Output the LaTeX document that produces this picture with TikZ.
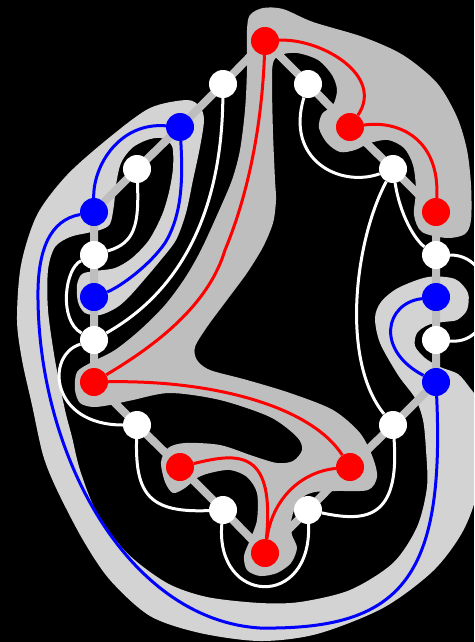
\documentclass[tikz,border=0pt]{standalone}
\definecolor{lgray}{HTML}{D3D3D3}
\definecolor{dgray}{HTML}{BEBEBE}
\pgfdeclarelayer{regions}
\pgfdeclarelayer{links}
\pgfsetlayers{regions,links,main}
\begin{document}
\begin{tikzpicture}[x=1pt,y=-1pt,
  vtx/.style={circle,minimum size=28pt,inner sep=0pt,draw=none},
  rv/.style={vtx,fill=red},
  bv/.style={vtx,fill=blue},
  wv/.style={vtx,fill=white},
  poly/.style={line width=8pt,draw=dgray},
  rc/.style={line width=3pt,draw=red},
  bc/.style={line width=3pt,draw=blue},
  wc/.style={line width=3pt,draw=white}]
\useasboundingbox (0,0) rectangle (474,642);
% vertices
\node[rv] (n1) at (265,41) {};
\node[wv] (n2) at (223,84) {};
\node[bv] (n3) at (180,127) {};
\node[wv] (n4) at (137,169) {};
\node[bv] (n5) at (94,212) {};
\node[wv] (n6) at (94,255) {};
\node[bv] (n7) at (94,297) {};
\node[wv] (n8) at (94,340) {};
\node[rv] (n9) at (94,382) {};
\node[wv] (n10) at (137,425) {};
\node[rv] (n11) at (180,467) {};
\node[wv] (n12) at (223,510) {};
\node[rv] (n13) at (265,553) {};
\node[wv] (n14) at (308,510) {};
\node[rv] (n15) at (350,467) {};
\node[wv] (n16) at (393,425) {};
\node[bv] (n17) at (436,382) {};
\node[wv] (n18) at (436,340) {};
\node[bv] (n19) at (436,297) {};
\node[wv] (n20) at (436,255) {};
\node[rv] (n21) at (436,212) {};
\node[wv] (n22) at (393,169) {};
\node[rv] (n23) at (350,127) {};
\node[wv] (n24) at (308,84) {};

\begin{pgfonlayer}{regions}
\clip (0,0) rectangle (474,642);
\fill[black] (0,0) rectangle (474,642);
% light region
\fill[lgray] plot[smooth cycle] coordinates {
(200,107) (187,100) (150,108) (110,137) (67,175) (37,215) (21,265) (17,320)
(22,360) (32,405) (43,455) (57,490) (83,540) (110,580) (150,616) (200,633)
(260,641) (317,634) (383,608) (433,571) (463,531) (478,487) (480,420) (478,400)
(470,388) (458,374) (440,367) (425,358) (415,346) (417,333) (428,325) (443,322)
(457,320) (467,310) (468,293) (455,279) (428,277) (398,288) (381,302) (375,318)
(380,343) (398,375) (415,398) (423,420) (426,450) (427,487) (417,527) (393,563)
(350,590) (300,602) (260,603) (207,597) (167,583) (127,553) (97,513) (80,470)
(72,437) (65,410) (55,360) (48,310) (48,270) (55,247) (70,237) (87,233)
(100,230) (110,224) (114,205) (116,185) (121,163) (132,148) (147,140) (161,138)
(172,146) (173,168) (169,192) (162,215) (149,240) (132,258) (115,268) (95,271)
(82,274) (77,285) (78,302) (85,313) (100,315) (116,308) (128,298) (144,280)
(160,261) (176,240) (186,213) (193,180) (200,147) (204,120)};
% dark region
\fill[dgray] plot[smooth cycle] coordinates {
(247,30) (247,70) (245,110) (240,150) (232,180) (218,213) (201,250) (185,278)
(165,305) (140,330) (115,350) (92,362) (77,372) (75,390) (80,403) (93,407)
(110,405) (133,400) (170,393) (220,400) (270,417) (297,437) (302,450) (293,461)
(277,463) (253,456) (220,445) (185,443) (168,448) (161,462) (165,482) (173,493)
(185,488) (197,478) (210,473) (230,470) (247,477) (257,493) (257,520) (250,540)
(244,556) (247,570) (260,576) (277,573) (291,563) (297,548) (292,535) (291,522)
(295,508) (303,497) (315,492) (337,491) (368,490) (377,477) (373,458) (360,433)
(333,410) (290,393) (247,380) (210,370) (197,360) (195,347) (207,327) (227,300)
(247,273) (263,247) (273,223) (276,200) (275,180) (273,133) (272,85) (273,63)
(280,55) (297,53) (318,60) (332,75) (337,90) (333,105) (322,114) (319,128)
(327,143) (340,152) (355,150) (370,143) (388,140) (404,148) (413,165) (416,190)
(414,215) (422,232) (447,238) (465,234) (471,220) (471,185) (467,150) (457,117)
(437,83) (403,55) (363,37) (313,22) (283,9) (263,8) (250,15)};
\end{pgfonlayer}

\begin{pgfonlayer}{links}
\clip (0,0) rectangle (474,642);
% cycle edges
\draw[poly] (n1.center) -- (n2.center) -- (n3.center) -- (n4.center) -- (n5.center)
  -- (n6.center) -- (n7.center) -- (n8.center) -- (n9.center) -- (n10.center)
  -- (n11.center) -- (n12.center) -- (n13.center) -- (n14.center) -- (n15.center)
  -- (n16.center) -- (n17.center) -- (n18.center) -- (n19.center) -- (n20.center)
  -- (n21.center) -- (n22.center) -- (n23.center) -- (n24.center) -- cycle;
% white curves
\draw[wc] (n2) .. controls (222,180) and (200,280) .. (n8);
\draw[wc] (n4) .. controls (139,225) and (135,243) .. (n6);
\draw[wc] (n6) .. controls (65,268) and (58,320) .. (n8);
\draw[wc] (n8) .. controls (45,355) and (50,425) .. (n10);
\draw[wc] (n10) .. controls (135,495) and (150,513) .. (n12);
\draw[wc] (n12) .. controls (215,605) and (312,610) .. (n14);
\draw[wc] (n14) .. controls (365,522) and (400,520) .. (n16);
\draw[wc] (n22) .. controls (355,240) and (340,360) .. (n16);
\draw[wc] (n22) .. controls (340,188) and (285,160) .. (n24);
\draw[wc] (n22) .. controls (400,215) and (415,240) .. (n20);
\draw[wc] (n20) .. controls (500,255) and (500,345) .. (n18);
% red curves
\draw[rc] (n1) .. controls (320,38) and (385,75) .. (n23);
\draw[rc] (n23) .. controls (400,120) and (440,140) .. (n21);
\draw[rc] (n1) .. controls (262,120) and (250,190) .. (225,250)
  .. controls (210,300) and (165,340) .. (n9);
\draw[rc] (n9) .. controls (210,380) and (310,405) .. (n15);
\draw[rc] (n11) .. controls (240,452) and (275,450) .. (n13);
\draw[rc] (n15) .. controls (300,472) and (272,500) .. (n13);
% blue curves
\draw[bc] (n3) .. controls (120,122) and (93,165) .. (n5);
\draw[bc] (n3) .. controls (183,180) and (182,215) .. (165,243)
  .. controls (150,265) and (120,287) .. (n7);
\draw[bc] (n5) .. controls (50,220) and (37,250) .. (38,300)
  .. controls (40,460) and (130,620) .. (260,628)
  .. controls (400,630) and (445,580) .. (n17);
\draw[bc] (n19) .. controls (385,303) and (375,350) .. (n17);
\end{pgfonlayer}
\end{tikzpicture}
\end{document}
